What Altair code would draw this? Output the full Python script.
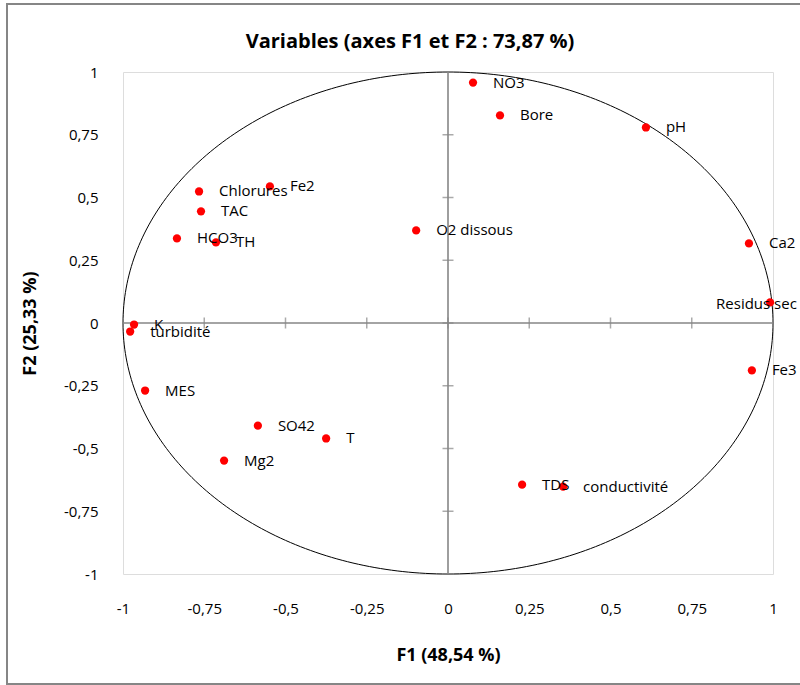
import altair as alt
import pandas as pd

# ---- data ----
labels = ["NO3", "Bore", "pH", "Ca2", "Residus sec", "Fe3", "conductivité", "TDS",
          "T", "SO42", "Mg2", "MES", "K", "turbidité", "HCO3", "TH", "TAC",
          "Chlorures", "Fe2", "O2 dissous"]
f1 = [0.077, 0.160, 0.609, 0.926, 0.991, 0.935, 0.354, 0.228,
      -0.375, -0.585, -0.689, -0.932, -0.966, -0.978, -0.834, -0.714, -0.760,
      -0.766, -0.548, -0.098]
f2 = [0.958, 0.827, 0.779, 0.317, 0.082, -0.189, -0.652, -0.644,
      -0.460, -0.409, -0.548, -0.269, -0.006, -0.034, 0.337, 0.321, 0.445,
      0.524, 0.544, 0.369]
tick_values = [-1, -0.75, -0.5, -0.25, 0, 0.25, 0.5, 0.75, 1]

title_text = "Variables (axes F1 et F2 : 73,87 %)"
x_title = "F1 (48,54 %)"
y_title = "F2 (25,33 %)"

FONT = "Open Sans"
GREY = "#868686"

df = pd.DataFrame({"label": labels, "F1": f1, "F2": f2})
df_main = df[df["label"] != "Residus sec"]
df_res = df[df["label"] == "Residus sec"]
df_xticks = pd.DataFrame({"F1": tick_values, "F2": [0] * len(tick_values)})
df_yticks = pd.DataFrame({"F1": [0] * len(tick_values), "F2": tick_values})
df_zero = pd.DataFrame({"F1": [0], "F2": [0]})

xs = alt.Scale(domain=[-1, 1], nice=False, zero=False)
ys = alt.Scale(domain=[-1, 1], nice=False, zero=False)
label_expr = "replace(toString(datum.value), '.', ',')"

x_axis = alt.Axis(values=tick_values, labelExpr=label_expr, domain=False, ticks=False,
                  grid=False, labelPadding=27, labelFontSize=15, labelFont=FONT,
                  labelColor="black", labelFlush=False, labelOverlap=False,
                  title=x_title, titleFont=FONT, titleFontSize=18, titleFontWeight="bold",
                  titleColor="black", titleX=325, titleY=81, titleAlign="center",
                  titleBaseline="middle")
y_axis = alt.Axis(values=tick_values, labelExpr=label_expr, domain=False, ticks=False,
                  grid=False, labelPadding=25, labelFontSize=15, labelFont=FONT,
                  labelColor="black", labelFlush=False, labelOverlap=False,
                  title=y_title, titleFont=FONT, titleFontSize=18, titleFontWeight="bold",
                  titleColor="black", titleX=-93, titleY=251, titleAlign="center",
                  titleBaseline="middle", titleAngle=270)

X = alt.X("F1:Q", scale=xs, axis=x_axis)
Y = alt.Y("F2:Q", scale=ys, axis=y_axis)

circle = alt.Chart(alt.sequence(0, 361, 1, as_="a")).transform_calculate(
    F1="cos(datum.a*PI/180)", F2="sin(datum.a*PI/180)"
).mark_line(color="black", strokeWidth=1).encode(x=X, y=Y, order="a:Q")

hrule = alt.Chart(df_zero).mark_rule(color=GREY, strokeWidth=1.6).encode(y=Y)
vrule = alt.Chart(df_zero).mark_rule(color=GREY, strokeWidth=1.6).encode(x=X)

xticks = alt.Chart(df_xticks).mark_tick(color=GREY, orient="vertical", size=11,
                                        thickness=1.5).encode(x=X, y=Y)
yticks = alt.Chart(df_yticks).mark_tick(color=GREY, orient="horizontal", size=11,
                                        thickness=1.5).encode(x=X, y=Y)

points = alt.Chart(df).mark_circle(color="#FF0000", size=68, opacity=1).encode(x=X, y=Y)

text_main = alt.Chart(df_main).mark_text(align="left", baseline="middle", dx=20,
                                          font=FONT, fontSize=15, color="black").encode(
    x=X, y=Y, text="label:N")
text_res = alt.Chart(df_res).mark_text(align="left", baseline="middle", dx=-54, dy=2,
                                        font=FONT, fontSize=15, color="black").encode(
    x=X, y=Y, text="label:N")

border = alt.Chart(df_zero).mark_rect(fill=None, stroke=GREY, strokeWidth=2).encode(
    x=alt.value(-116), x2=alt.value(720), y=alt.value(-68), y2=alt.value(612))

chart = alt.layer(border, circle, hrule, vrule, xticks, yticks, points, text_main, text_res).properties(
    width=650, height=502,
    padding={"left": 123, "top": 72, "right": 27, "bottom": 111},
    autosize=alt.AutoSizeParams(type="none"),
    title=alt.TitleParams(title_text, font=FONT, fontSize=20, fontWeight="bold",
                          anchor="middle", dx=-38, offset=-49, color="black"),
).configure_view(stroke=GREY, strokeWidth=1.6).configure(background="white")

chart.save("out.html", embed_options={"renderer": "svg", "actions": False})
